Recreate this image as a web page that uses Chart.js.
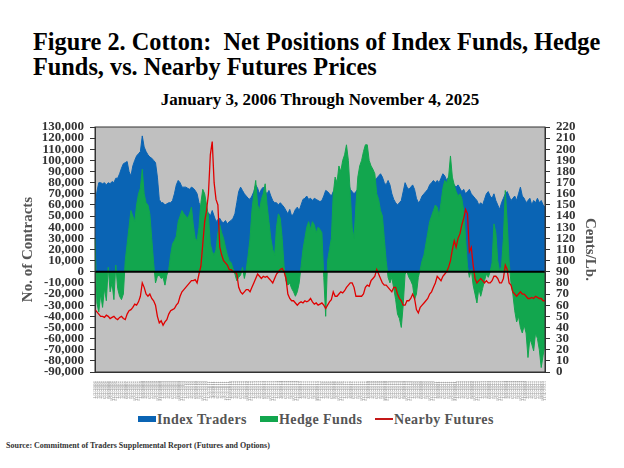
<!DOCTYPE html>
<html lang="en">
<head>
<meta charset="UTF-8" />
<title>Cotton Net Positions</title>
<script src="https://cdn.jsdelivr.net/npm/chart.js"></script>
<style>
  * { box-sizing: border-box; }
  body {
    margin: 0;
    width: 624px;
    height: 468px;
    position: relative;
    overflow: hidden;
    background: #fff;
    font-family: 'Liberation Serif', 'Times New Roman', serif;
  }
  h1 {
    position: absolute;
    left: 33px;
    top: 29px;
    margin: 0;
    font-size: 24.3px;
    line-height: 25px;
    font-weight: bold;
    color: #000;
    white-space: nowrap;
  }
  h2 {
    position: absolute;
    left: 0;
    top: 90px;
    width: 640px;
    margin: 0;
    text-align: center;
    font-size: 17px;
    font-weight: bold;
  }
  #wrap {
    position: absolute;
    left: 0;
    top: 110px;
    width: 624px;
    height: 300px;
  }
  .key {
    position: absolute;
    top: 412px;
    font-size: 14px;
    font-weight: bold;
    color: #555;
    letter-spacing: 0.4px;
    white-space: nowrap;
  }
  .key i {
    display: inline-block;
    width: 18px;
    height: 6px;
    margin-right: 1px;
    vertical-align: 2px;
  }
  .key i.ln { height: 2px; vertical-align: 4px; }
  .source {
    position: absolute;
    left: 6px;
    top: 441px;
    font-size: 8px;
    font-weight: bold;
    color: #333;
  }
</style>
</head>
<body>
  <h1>Figure 2. Cotton:&nbsp; Net Positions of Index Funds, Hedge<br>Funds, vs. Nearby Futures Prices</h1>
  <h2>January 3, 2006 Through November 4, 2025</h2>
  <div id="wrap"><canvas id="chart"></canvas></div>
  <div class="key" style="left:138px"><i style="background:#0a64b4"></i>Index Traders</div>
  <div class="key" style="left:260px"><i style="background:#12a64e"></i>Hedge Funds</div>
  <div class="key" style="left:375px"><i class="ln" style="background:#c41818"></i>Nearby Futures</div>
  <div class="source">Source: Commitment of Traders Supplemental Report (Futures and Options)</div>

<script>
// monthly readings, Jan 2006 .. Nov 2025 (thousands of contracts / cents per lb)
const indexTraders = [
  57, 72, 80, 80, 79, 80, 78, 80, 79, 81, 80, 84,
  84, 88, 93, 97, 98, 99, 90, 86, 95, 100, 104, 106,
  108, 122, 112, 108, 105, 103, 102, 100, 98, 85, 65, 62,
  62, 60, 61, 62, 62, 64, 70, 78, 82, 80, 76, 76,
  76, 75, 74, 76, 75, 73, 70, 62, 58, 52, 55, 50,
  53, 50, 55, 50, 45, 47, 48, 45, 44, 46, 43, 45,
  46, 48, 52, 62, 72, 76, 73, 70, 68, 66, 65, 68,
  72, 78, 75, 70, 74, 76, 72, 70, 73, 68, 64, 62,
  62, 60, 62, 60, 58, 55, 52, 56, 50, 52, 56, 58,
  55, 60, 65, 66, 68, 65, 66, 64, 66, 65, 64, 63,
  64, 68, 73, 72, 70, 68, 72, 70, 68, 70, 72, 70,
  76, 78, 80, 74, 72, 70, 72, 74, 76, 78, 80, 82,
  82, 80, 78, 80, 82, 84, 86, 88, 85, 80, 78, 82,
  78, 70, 65, 62, 60, 62, 64, 72, 80, 76, 74, 76,
  78, 74, 66, 62, 64, 68, 70, 72, 74, 78, 80, 82,
  80, 82, 80, 84, 88, 86, 82, 85, 88, 80, 78, 76,
  78, 75, 72, 74, 70, 72, 74, 70, 68, 66, 64, 60,
  62, 60, 65, 70, 72, 68, 66, 70, 64, 60, 56, 62,
  66, 70, 72, 68, 64, 66, 68, 64, 70, 76, 68, 66,
  62, 64, 66, 60, 64, 62, 66, 62, 64, 60, 58
];

const hedgeFunds = [
  30, -28, -36, -20, -32, -15, -26, 4, -18, -10, -25, 6,
  -15, -22, -25, -20, 10, 25, 40, 55, 50, 45, 60, 70,
  75, 92, 70, 62, 60, 52, 30, 8, -10, -4, -3, -6,
  -5, -12, -3, 2, 15, 25, 28, 32, 45, 50, 55, 52,
  50, 48, 52, 58, 42, 30, 28, 40, 62, 74, 70, 60,
  50, 25, 18, 15, 20, 35, 42, 35, 30, 22, 15, 10,
  8, 3, -2, -8, -5, -3, 4, -6, 2, 15, 30, 55,
  70, 82, 60, 55, 65, 70, 79, 60, 45, 30, 20, 15,
  40, 52, 48, 30, 5, -8, -12, -10, -15, -18, -22, -18,
  -10, 5, 20, 30, 40, 45, 38, 45, 42, 35, 40, 38,
  35, -5, -40, 10, 20, 30, 70, 85, 80, 95, 90, 100,
  105, 114, 100, 70, 40, 30, 60, 85, 95, 100, 108, 114,
  114, 100, 95, 92, 88, 70, 65, 55, 50, 30, 10, -5,
  -10, -5, -15, -25, -38, -42, -50, -30, -2, 0, -5, -8,
  -12, -25, -20, -5, 2, 10, 15, 25, 35, 45, 50, 55,
  60, 58, 50, 62, 75, 82, 80, 85, 104, 85, 78, 72,
  68, 70, 66, 55, 30, 5, -5, 2, -12, -20, -28, -15,
  -22, -15, -8, -2, -5, 0, 8, 43, 35, 10, 0, 5,
  30, 73, 45, 10, -10, -20, -35, -45, -40, -50, -55, -48,
  -55, -77, -60, -65, -71, -55, -60, -70, -86, -75, -65
];

const nearbyFutures = [
  56, 54, 52, 50, 50, 49, 51, 50, 48, 49, 50, 48,
  47, 49, 50, 48, 47, 52, 55, 56, 58, 61, 60, 63,
  68, 80, 76, 70, 68, 70, 66, 64, 60, 50, 44, 46,
  42, 45, 47, 52, 55, 56, 57, 60, 62, 68, 72, 74,
  76, 78, 80, 82, 82, 83, 80, 88, 95, 115, 135, 145,
  160, 195, 207, 170, 155, 150, 112, 105, 100, 98, 96, 92,
  92, 90, 90, 88, 76, 72, 70, 72, 74, 74, 72, 76,
  80, 84, 88, 86, 84, 86, 85, 86, 84, 82, 80, 84,
  88, 90, 92, 93, 90, 84, 70, 66, 64, 64, 62, 60,
  62, 63, 62, 64, 63, 64, 66, 63, 61, 62, 60, 61,
  62, 60, 57, 60, 63, 65, 72, 68, 68, 70, 72, 71,
  73, 76, 78, 80, 80, 76, 68, 68, 68, 68, 70, 76,
  78, 77, 82, 84, 86, 92, 88, 84, 80, 78, 78, 76,
  74, 72, 76, 76, 70, 66, 64, 60, 60, 64, 64, 66,
  70, 66, 56, 53, 58, 60, 62, 64, 66, 70, 72, 76,
  80, 86, 84, 82, 86, 88, 90, 94, 100, 110, 118, 112,
  120, 124, 132, 138, 146, 142, 108, 112, 96, 84, 80, 82,
  84, 82, 80, 82, 80, 80, 82, 86, 86, 84, 80, 80,
  84, 96, 92, 80, 78, 72, 70, 68, 70, 72, 70, 70,
  68, 66, 66, 67, 66, 68, 67, 66, 66, 64, 64
];

// category labels, one per month
const dateLabels = [];
for (let y = 2006; y <= 2025; y++) {
  for (let mo = 1; mo <= 12; mo++) {
    if (y === 2025 && mo > 11) break;
    dateLabels.push(mo + '/' + (mo === 11 && y === 2025 ? 4 : 3) + '/' + y);
  }
}

const SERIF = "'Liberation Serif', 'Times New Roman', serif";

const plotFrame = {
  id: 'plotFrame',
  beforeDraw(chart) {
    const a = chart.chartArea, c = chart.ctx;
    c.save();
    c.fillStyle = '#c0c0c0';
    c.fillRect(a.left, a.top, a.right - a.left, a.bottom - a.top);
    c.restore();
  },
  afterDatasetsDraw(chart) {
    const a = chart.chartArea, c = chart.ctx;
    const y0 = chart.scales.y.getPixelForValue(0);
    c.save();
    c.strokeStyle = '#000';
    c.lineWidth = 2;
    c.beginPath();
    c.moveTo(a.left, y0);
    c.lineTo(a.right, y0);
    c.stroke();
    c.strokeStyle = '#333';
    c.lineWidth = 1;
    c.strokeRect(a.left, a.top, a.right - a.left, a.bottom - a.top);
    c.restore();
  }
};

new Chart(document.getElementById('chart'), {
  type: 'line',
  data: {
    labels: dateLabels,
    datasets: [
      {
        label: 'Nearby Futures',
        data: nearbyFutures,
        yAxisID: 'y1',
        borderColor: '#e00000',
        borderWidth: 1.3,
        pointRadius: 0,
        fill: false,
        order: 0
      },
      {
        label: 'Hedge Funds',
        data: hedgeFunds.map(v => v * 1000),
        yAxisID: 'y',
        borderColor: '#12a64e',
        backgroundColor: '#12a64e',
        borderWidth: 1,
        pointRadius: 0,
        fill: 'origin',
        order: 1
      },
      {
        label: 'Index Traders',
        data: indexTraders.map(v => v * 1000),
        yAxisID: 'y',
        borderColor: '#0a64b4',
        backgroundColor: '#0a64b4',
        borderWidth: 1,
        pointRadius: 0,
        fill: 'origin',
        order: 2
      }
    ]
  },
  options: {
    responsive: true,
    maintainAspectRatio: false,
    animation: false,
    layout: { padding: { top: 17, left: 0, right: 0, bottom: 0 } },
    plugins: {
      legend: { display: false },
      tooltip: { enabled: false }
    },
    scales: {
      x: {
        grid: { display: false },
        border: { color: '#333' },
        ticks: {
          autoSkip: false,
          minRotation: 90,
          maxRotation: 90,
          padding: 1,
          color: '#999',
          font: { family: SERIF, size: 5 }
        },
        afterFit(s) { s.height = 38; }
      },
      y: {
        position: 'left',
        min: -90000,
        max: 130000,
        grid: { drawOnChartArea: false, tickLength: 5, tickColor: '#333' },
        border: { color: '#333' },
        ticks: {
          autoSkip: false,
          stepSize: 10000,
          padding: 6,
          color: '#333',
          font: { family: SERIF, size: 13, weight: 'bold', lineHeight: 1 },
          callback: v => v.toLocaleString('en-US')
        },
        title: {
          display: true,
          text: 'No. of Contracts',
          color: '#555',
          font: { family: SERIF, size: 15, weight: 'bold' },
          padding: { top: 19, bottom: 0 }
        },
        afterFit(s) { s.width = 95; }
      },
      y1: {
        position: 'right',
        min: 0,
        max: 220,
        grid: { drawOnChartArea: false, tickLength: 5, tickColor: '#333' },
        border: { color: '#333' },
        ticks: {
          autoSkip: false,
          stepSize: 10,
          padding: 6,
          color: '#333',
          font: { family: SERIF, size: 13, weight: 'bold', lineHeight: 1 }
        },
        title: {
          display: true,
          text: 'Cents/Lb.',
          color: '#555',
          font: { family: SERIF, size: 15, weight: 'bold' },
          padding: { top: 25, bottom: 0 }
        },
        afterFit(s) { s.width = 79; }
      }
    }
  },
  plugins: [plotFrame]
});
</script>
</body>
</html>
